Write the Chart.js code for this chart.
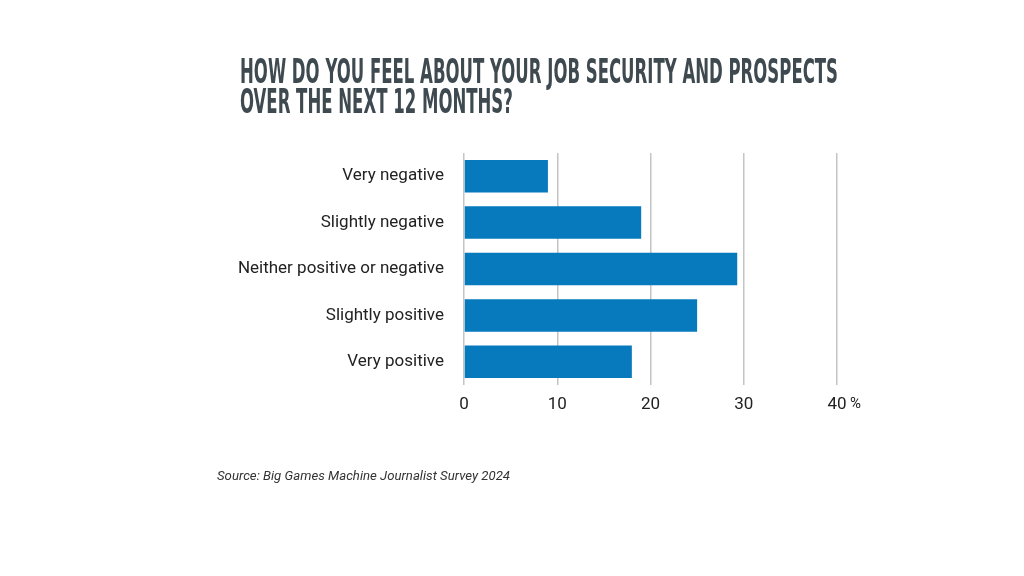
<!DOCTYPE html>
<html>
<head>
<meta charset="utf-8">
<script src="https://cdn.jsdelivr.net/npm/chart.js@4.4.0/dist/chart.umd.min.js"></script>
<style>
  html, body { margin: 0; padding: 0; background: #fff; }
  #wrap { position: relative; width: 1024px; height: 576px; overflow: hidden; }
  #chart { position: absolute; left: 0; top: 0; }
  .title {
    position: absolute; left: 240px; margin: 0;
    font-family: "Liberation Sans Narrow", "DejaVu Sans Condensed", sans-serif;
    font-weight: bold; font-size: 33px; line-height: 33px;
    color: #3e4a50; white-space: nowrap; transform-origin: 0 0;
  }
  #source {
    position: absolute; left: 217px; top: 468px;
    font-family: Roboto, sans-serif; font-style: italic; font-size: 13.2px; color: #333;
  }
</style>
</head>
<body>
<div id="wrap">
  <canvas id="chart" width="1024" height="576"></canvas>
  <div class="title" id="t1" style="top:55px">HOW DO YOU FEEL ABOUT YOUR JOB SECURITY AND PROSPECTS</div>
  <div class="title" id="t2" style="top:85px">OVER THE NEXT 12 MONTHS?</div>
  <div id="source">Source: Big Games Machine Journalist Survey 2024</div>
</div>
<script>
// data
const categories = ["Very negative", "Slightly negative", "Neither positive or negative", "Slightly positive", "Very positive"];
const values = [9, 19, 29.3, 25, 18];
const xTicks = [0, 10, 20, 30, 40];

// squeeze title to the width of the original
const t1 = document.getElementById("t1");
const t2 = document.getElementById("t2");
const k = 598 / t1.getBoundingClientRect().width;
t1.style.transform = `scaleX(${k})`;
t2.style.transform = `scaleX(${k})`;

// little "%" next to the last tick
const percentPlugin = {
    id: "percent",
    afterDraw(chart) {
        const ctx = chart.ctx;
        const x = chart.scales.x.getPixelForValue(40);
        ctx.save();
        ctx.font = "15px Roboto";
        ctx.fillStyle = "#222";
        ctx.textBaseline = "middle";
        ctx.fillText("%", x + 13, 404);
        ctx.restore();
    }
};

new Chart(document.getElementById("chart"), {
    type: "bar",
    data: {
        labels: categories,
        datasets: [{
            data: values,
            backgroundColor: "#0779bd",
            borderWidth: 0,
            barPercentage: 0.7,
            categoryPercentage: 1.0
        }]
    },
    options: {
        indexAxis: "y",
        responsive: false,
        animation: false,
        layout: { padding: { top: 153, right: 187, bottom: 151, left: 0 } },
        plugins: { legend: { display: false }, tooltip: { enabled: false } },
        scales: {
            x: {
                min: 0, max: 40,
                afterBuildTicks: (s) => { s.ticks = xTicks.map(v => ({ value: v })); },
                afterFit: (s) => { s.height = 40; },
                grid: { color: "#c4c4c4", lineWidth: 1.5, drawTicks: false },
                border: { display: false },
                ticks: { color: "#222", font: { family: "Roboto", size: 17 }, padding: 10 }
            },
            y: {
                afterFit: (s) => { s.width = 464; },
                grid: { display: false, drawTicks: false },
                border: { display: false },
                ticks: { color: "#222", font: { family: "Roboto", size: 17 }, padding: 20 }
            }
        }
    },
    plugins: [percentPlugin]
});
</script>
</body>
</html>
